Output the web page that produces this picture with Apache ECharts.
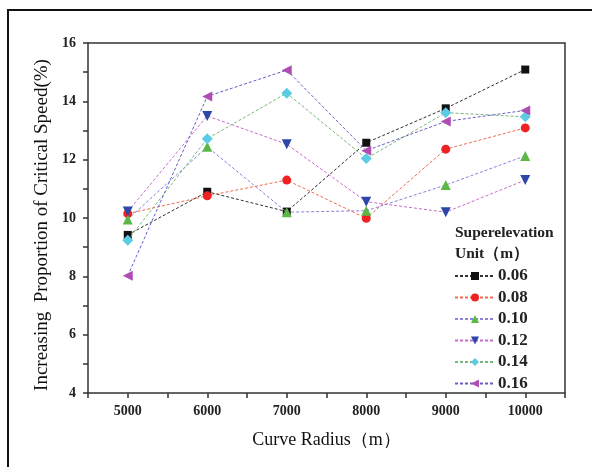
<!DOCTYPE html>
<html>
<head>
<meta charset="utf-8">
<script src="https://cdn.jsdelivr.net/npm/echarts@6/dist/echarts.min.js"></script>
<style>
html,body{margin:0;padding:0;background:#fff;}
#c{width:592px;height:467px;}
</style>
</head>
<body>
<div id="c"></div>
<script>
// ---- data ----
var radii = [5000, 6000, 7000, 8000, 9000, 10000];
var seriesNames = ['0.06', '0.08', '0.10', '0.12', '0.14', '0.16'];
var s006 = [9.42, 10.9, 10.22, 12.58, 13.76, 15.09];
var s008 = [10.15, 10.76, 11.3, 9.99, 12.36, 13.09];
var s010 = [9.95, 12.44, 10.2, 10.25, 11.13, 12.13];
var s012 = [10.22, 13.5, 12.53, 10.56, 10.2, 11.3];
var s014 = [9.24, 12.72, 14.28, 12.04, 13.61, 13.47];
var s016 = [8.02, 14.17, 15.07, 12.31, 13.31, 13.69];
var yTicks = [4, 6, 8, 10, 12, 14, 16];
var xTicks = [5000, 6000, 7000, 8000, 9000, 10000];

var allValues = [s006, s008, s010, s012, s014, s016];
var markerColors = ['#111111', '#ee2222', '#5cb844', '#2d47a8', '#5ccbe4', '#b04cb2'];
var lineColors = ['#333333', '#f06a50', '#8a82dc', '#c86ccc', '#78b878', '#6a5cc8'];
var symbols = ['rect', 'circle', 'triangle', 'triangle', 'diamond', 'triangle'];
var rotations = [0, 0, 0, 180, 0, 90];
var sizes = [8, 9, 10, 10, 11, 10];

var FONT = '"Liberation Serif", "Times New Roman", serif';

function pairs(vals) {
  return radii.map(function (r, i) { return [r, vals[i]]; });
}

var series = seriesNames.map(function (n, k) {
  return {
    name: n,
    type: 'line',
    data: pairs(allValues[k]),
    symbol: symbols[k],
    symbolRotate: rotations[k],
    symbolSize: sizes[k],
    showAllSymbol: true,
    itemStyle: { color: markerColors[k], opacity: 1 },
    lineStyle: { color: lineColors[k], width: 1, type: [3, 2] },
    emphasis: { disabled: true },
    animation: false,
    z: 2 + k
  };
});

var chart = echarts.init(document.getElementById('c'), null, { renderer: 'canvas' });
chart.setOption({
  backgroundColor: '#fff',
  animation: false,
  textStyle: { fontFamily: FONT },
  grid: { left: 88, top: 43, right: 27, bottom: 74, show: false },
  xAxis: {
    type: 'value',
    min: 4500, max: 10500, interval: 500,
    name: 'Curve Radius（m）',
    nameLocation: 'middle',
    nameGap: 38,
    nameTextStyle: { fontFamily: FONT, fontSize: 18, color: '#111' },
    axisLine: { show: true, onZero: false, lineStyle: { color: '#333', width: 1.5 } },
    axisTick: { show: true, inside: false, length: 5, lineStyle: { color: '#333', width: 1.5 } },
    axisLabel: {
      fontFamily: FONT, fontSize: 14, fontWeight: 'bold', color: '#222', margin: 11,
      formatter: function (v) { return xTicks.indexOf(v) >= 0 ? String(v) : ''; }
    },
    splitLine: { show: false }
  },
  yAxis: {
    type: 'value',
    min: 4, max: 16, interval: 1,
    name: 'Increasing  Proportion of Critical Speed(%)',
    nameLocation: 'middle',
    nameGap: 33,
    nameTextStyle: { fontFamily: FONT, fontSize: 19, color: '#111', padding: [0, 14, 0, 0] },
    axisLine: { show: true, lineStyle: { color: '#333', width: 1.5 } },
    axisTick: { show: true, inside: false, length: 5, lineStyle: { color: '#333', width: 1.5 } },
    axisLabel: {
      fontFamily: FONT, fontSize: 14, fontWeight: 'bold', color: '#222', margin: 12,
      formatter: function (v) { return yTicks.indexOf(v) >= 0 ? String(v) : ''; }
    },
    splitLine: { show: false }
  },
  legend: {
    orient: 'vertical',
    left: 454,
    top: 266,
    itemWidth: 40,
    itemHeight: 10,
    itemGap: 1.5,
    padding: 0,
    data: seriesNames,
    textStyle: { fontFamily: FONT, fontSize: 17, fontWeight: 'bold', color: '#222', lineHeight: 20, padding: [0, 0, 0, -2] },
    selectedMode: false
  },
  graphic: [
    {
      type: 'rect', silent: true, z: 100,
      shape: { x: 8, y: 10, width: 620, height: 500 },
      style: { fill: 'none', stroke: '#111', lineWidth: 2 }
    },
    {
      type: 'polyline', silent: true, z: 50,
      shape: { points: [[88, 43], [565, 43], [565, 393]] },
      style: { fill: 'none', stroke: '#333', lineWidth: 1.5 }
    },
    {
      type: 'text', silent: true, z: 50, left: 455, top: 225,
      style: { text: 'Superelevation', fontFamily: FONT, fontSize: 15.5, fontWeight: 'bold', fill: '#222' }
    },
    {
      type: 'text', silent: true, z: 50, left: 455, top: 246,
      style: { text: 'Unit（m）', fontFamily: FONT, fontSize: 15.5, fontWeight: 'bold', fill: '#222' }
    }
  ],
  series: series
});
</script>
</body>
</html>
